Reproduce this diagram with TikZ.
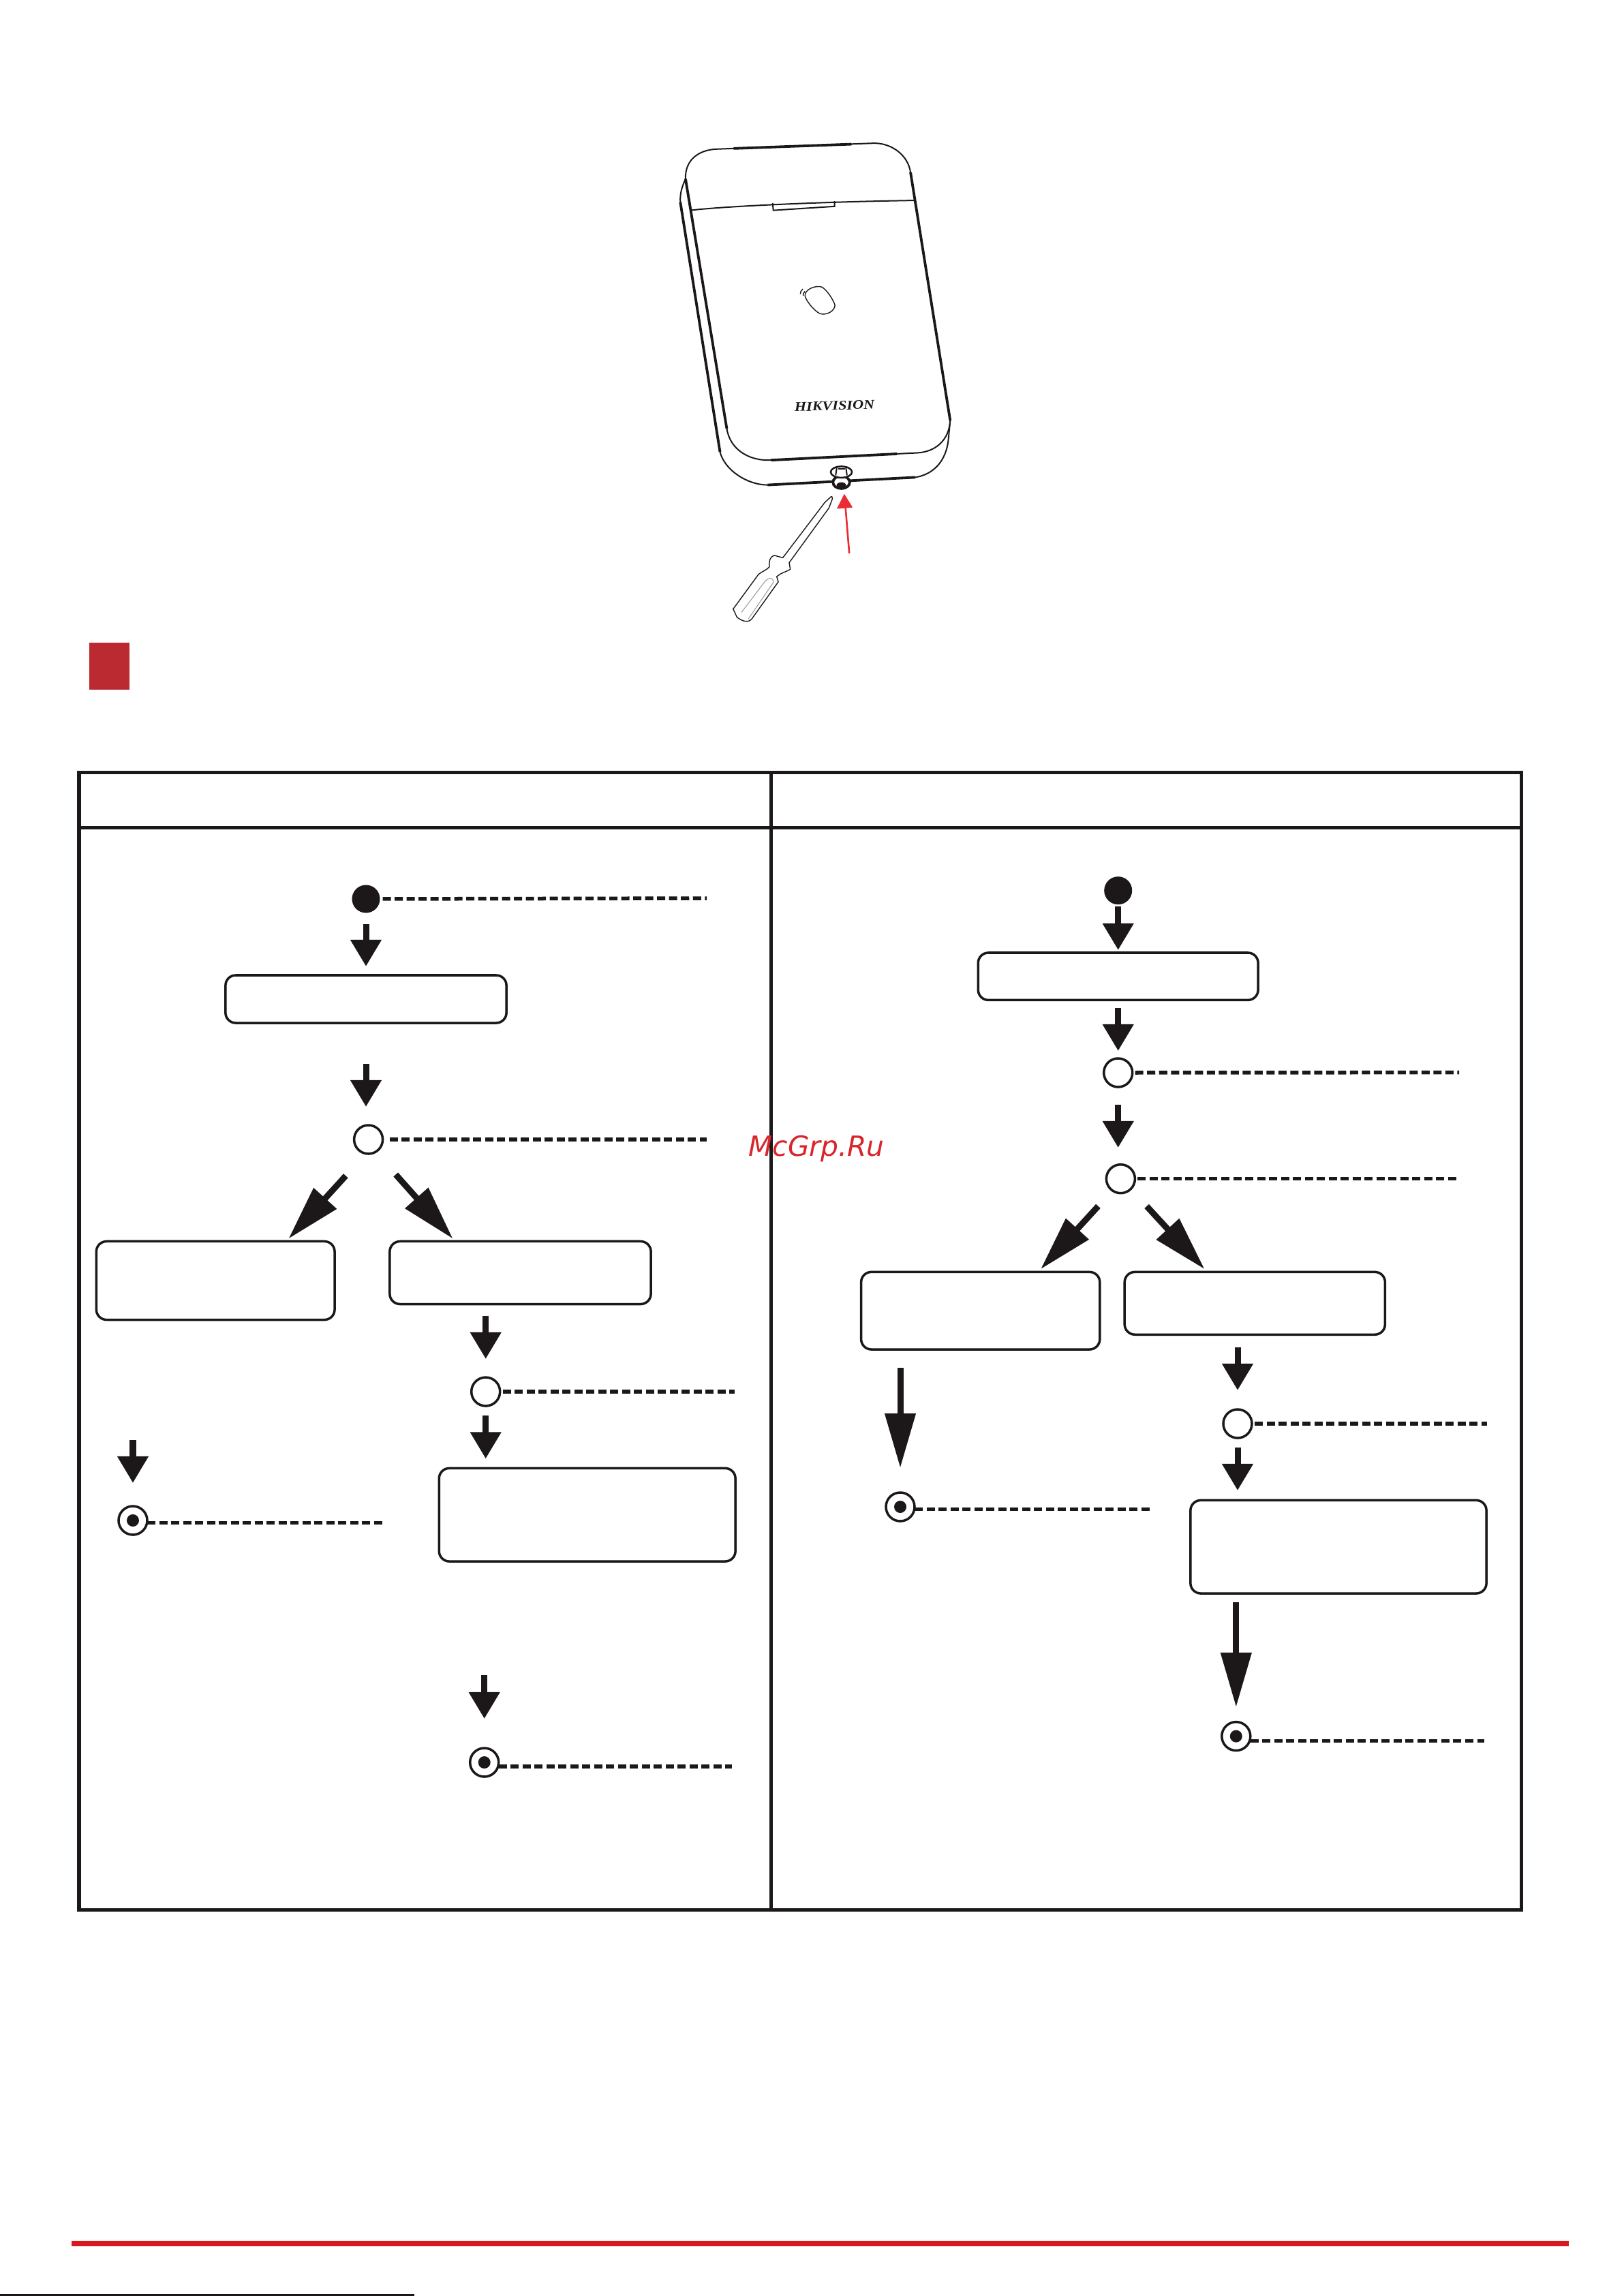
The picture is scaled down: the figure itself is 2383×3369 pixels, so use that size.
\documentclass[tikz,border=0pt]{standalone}
\usepackage{fontspec}
\usepackage{tikz}
\usetikzlibrary{arrows.meta}
\newfontfamily\markfont{DejaVu Sans}
\newfontfamily\logofont{Liberation Serif}
\definecolor{ink}{HTML}{1C1819}
\definecolor{hikred}{HTML}{D71920}
\definecolor{markred}{HTML}{D8262C}
\definecolor{tipred}{HTML}{ED2B33}
\definecolor{flagred}{HTML}{BA2A30}

\begin{document}
\begin{tikzpicture}[
            x=0.01cm,y=-0.01cm,
            init-node/.style={circle,fill=ink,inner sep=0,outer sep=0,minimum size=0.41cm},
            wait-node/.style={circle,draw=ink,fill=white,line width=0.035cm,inner sep=0,outer sep=0,minimum size=0.42cm},
            end-node/.style={wait-node,path picture={\fill[ink] (path picture bounding box.center) circle (0.09cm);}},
            act-node/.style={rectangle,rounded corners=0.15cm,draw=ink,fill=white,line width=0.035cm,inner sep=0,outer sep=0},
            flow/.style={-{Triangle[length=0.39cm,width=0.435cm]},draw=ink,fill=ink,line width=0.09cm},
            long-flow/.style={-{Triangle[length=0.8cm,width=0.435cm]},draw=ink,fill=ink,line width=0.09cm},
            lead/.style={draw=ink,line width=0.055cm,dash pattern=on 0.12cm off 0.055cm,shorten <=0.04cm},
            frame/.style={draw=ink,line width=0.05cm},
            outline/.style={draw=ink,line width=0.02cm},
            edge-line/.style={draw=ink,line width=0.038cm},
            thin-outline/.style={draw=ink,line width=0.014cm},
        ]
            \useasboundingbox (0,0) rectangle (2383,3369);

            % device and screwdriver
            \begin{scope}[shift={(950,180)},x=0.003333cm,y=-0.004847cm]
                \draw[outline,fill=white] (350,925) .. controls (365,990) and (450,1020) .. (530,1020) -- (1190,998) .. controls (1270,995) and (1330,960) .. (1335,900) -- (1160,150) .. controls (1150,100) and (1080,62) .. (1000,62) -- (300,80) .. controls (230,83) and (165,110) .. (168,170) -- cycle;
                \draw[outline] (168,170) .. controls (155,190) and (143,210) .. (145,240) -- (320,995) .. controls (340,1050) and (440,1095) .. (530,1095) -- (1180,1072) .. controls (1250,1065) and (1320,1030) .. (1328,950) -- (1335,900);
                \draw[edge-line] (168,170) -- (350,925);
                \draw[edge-line] (145,240) -- (320,995);
                \draw[edge-line] (1160,150) -- (1335,900);
                \draw[edge-line] (380,78) -- (900,65);
                \draw[edge-line] (545,1020) -- (1100,1001);
                \draw[edge-line] (530,1095) -- (1180,1072);
                \draw[outline] (190,265) .. controls (300,255) and (700,240) .. (1175,235);
                \draw[outline] (552,243) -- (555,265) -- (825,253) -- (825,237);
                \draw[thin-outline] (695,525) .. controls (690,505) and (740,490) .. (770,497) .. controls (790,505) and (820,535) .. (827,552) .. controls (825,570) and (790,582) .. (765,578) .. controls (745,575) and (705,545) .. (695,525);
                \draw[thin-outline] (685,503) .. controls (678,507) and (673,512) .. (674,518);
                \draw[thin-outline] (695,510) .. controls (688,513) and (685,518) .. (687,523);
                \node[rotate=2,xscale=1.15,text=ink,inner sep=0] (logo) at (825,856) {\logofont\fontsize{5.5}{6}\selectfont\bfseries\itshape HIKVISION};

                % screw
                \draw[edge-line,fill=white] (855,1087) ellipse [x radius=37,y radius=19];
                \fill[ink] (855,1096) ellipse [x radius=21,y radius=9];
                \draw[edge-line,line width=0.025cm,fill=white] (855,1056) ellipse [x radius=47,y radius=17];
                \draw[outline] (835,1042) -- (830,1066);
                \draw[outline] (875,1042) -- (880,1066);
                \draw[outline] (840,1047) -- (872,1047);

                % screwdriver
                \draw[thin-outline,fill=white] (807,1132) .. controls (812,1128) and (816,1130) .. (815,1138) -- (800,1165) -- (625,1330) -- (630,1350) .. controls (610,1358) and (585,1362) .. (570,1372) -- (577,1388) -- (460,1500) .. controls (445,1512) and (420,1508) .. (395,1495) -- (378,1470) -- (490,1365) .. controls (510,1355) and (530,1350) .. (538,1342) .. controls (535,1320) and (545,1310) .. (560,1308) -- (597,1315) -- (782,1148) -- cycle;
                \draw[draw=ink!45,line width=0.01cm] (415,1480) -- (520,1385) .. controls (535,1375) and (555,1372) .. (555,1390) -- (445,1500);

                % arrow at the screw
                \draw[draw=tipred,line width=0.026cm] (890,1302) -- (873,1160);
                \fill[tipred] (868,1122) -- (905,1163) -- (835,1167) -- cycle;
            \end{scope}

            \fill[flagred] (131,943) rectangle (190,1012);

            % table
            \draw[frame] (116,1133) rectangle (2232,2802);
            \draw[frame] (116,1214) -- (2232,1214);
            \draw[frame] (1131,1133) -- (1131,2802);

            % left column
            \node[init-node] (startL) at (537,1319) {};
            \node[act-node,minimum width=4.12cm,minimum height=0.7cm] (boxLa) at (537,1466) {};
            \node[wait-node] (circLa) at (540.6,1672) {};
            \node[act-node,minimum width=3.495cm,minimum height=1.15cm] (boxLb) at (316.2,1879) {};
            \node[act-node,minimum width=3.83cm,minimum height=0.92cm] (boxLc) at (763.5,1867.5) {};
            \node[wait-node] (circLb) at (712.7,2042) {};
            \node[act-node,minimum width=4.346cm,minimum height=1.366cm] (boxLd) at (861.7,2222.7) {};
            \node[end-node] (endLa) at (195,2231) {};
            \node[end-node] (endLb) at (710.7,2586) {};

            \coordinate (leadLa) at (1037,1318);
            \coordinate (leadLb) at (1037,1672);
            \coordinate (leadLc) at (1078,2042);
            \coordinate (leadLd) at (561,2234.7);
            \coordinate (leadLe) at (1074,2591.8);
            \coordinate (tipLb) at (423.4,1817.6);
            \coordinate (tipLc) at (664.5,1817.6);

            \draw[lead] (startL) -- (leadLa);
            \draw[lead,shorten <=0.1cm] (circLa) -- (leadLb);
            \draw[lead] (circLb) -- (leadLc);
            \draw[lead,shorten <=0] (endLa.east |- leadLd) -- (leadLd);
            \draw[lead,shorten <=0] (endLb.east |- leadLe) -- (leadLe);

            \draw[flow,shorten <=0.16cm,shorten >=0.13cm] (startL) -- (boxLa);
            \draw[flow,shorten <=0.6cm,shorten >=0.27cm] (boxLa.south) -- (boxLa.south |- circLa.north);
            \draw[long-flow,shorten <=0.44cm] (circLa.260) -- (tipLb);
            \draw[long-flow,shorten <=0.445cm] (circLa.300) -- (tipLc);
            \draw[flow,shorten <=0.17cm,shorten >=0.27cm] (boxLc.south -| circLb.north) -- (circLb.north);
            \draw[flow,shorten <=0.14cm,shorten >=0.14cm] (circLb.south) -- (circLb.south |- boxLd.north);
            \draw[flow,shorten <=1.76cm,shorten >=0.34cm] (boxLb.south -| endLa.north) -- (endLa.north);
            \draw[flow,shorten <=1.67cm,shorten >=0.43cm] (boxLd.south -| endLb.north) -- (endLb.north);

            % right column
            \node[init-node] (startR) at (1640.7,1306.7) {};
            \node[act-node,minimum width=4.106cm,minimum height=0.694cm] (boxRa) at (1640.7,1432.7) {};
            \node[wait-node] (circRa) at (1640.7,1574) {};
            \node[wait-node] (circRb) at (1644.4,1729.7) {};
            \node[act-node,minimum width=3.5cm,minimum height=1.136cm] (boxRb) at (1438.7,1923.2) {};
            \node[act-node,minimum width=3.82cm,minimum height=0.918cm] (boxRc) at (1841.3,1912.3) {};
            \node[wait-node] (circRc) at (1816,2089) {};
            \node[act-node,minimum width=4.34cm,minimum height=1.366cm] (boxRd) at (1964,2269.7) {};
            \node[end-node] (endRa) at (1321,2211) {};
            \node[end-node] (endRb) at (1813.8,2547.6) {};

            \coordinate (leadRa) at (2141,1573.6);
            \coordinate (leadRb) at (2141,1729.7);
            \coordinate (leadRc) at (2182,2089);
            \coordinate (leadRd) at (1687,2214.6);
            \coordinate (leadRe) at (2177.6,2554.5);
            \coordinate (tipRb) at (1527,1862.3);
            \coordinate (tipRc) at (1767.6,1862.3);

            \draw[lead] (circRa) -- (leadRa);
            \draw[lead] (circRb) -- (leadRb);
            \draw[lead] (circRc) -- (leadRc);
            \draw[lead,shorten <=0] (endRa.east |- leadRd) -- (leadRd);
            \draw[lead,shorten <=0] (endRb.east |- leadRe) -- (leadRe);

            \draw[flow,shorten <=0.03cm,shorten >=0.04cm] (startR) -- (boxRa);
            \draw[flow,shorten <=0.116cm,shorten >=0.11cm] (boxRa) -- (circRa);
            \draw[flow,shorten <=0.26cm,shorten >=0.247cm] (circRa.south) -- (circRa.south |- circRb.north);
            \draw[long-flow,shorten <=0.31cm] (circRb.235) -- (tipRb);
            \draw[long-flow,shorten <=0.345cm] (circRb.315) -- (tipRc);
            \draw[flow,shorten <=0.19cm,shorten >=0.28cm] (boxRc.south -| circRc.north) -- (circRc.north);
            \draw[flow,shorten <=0.14cm,shorten >=0.144cm] (circRc.south) -- (circRc.south |- boxRd.north);
            \draw[long-flow,shorten <=0.274cm,shorten >=0.36cm] (boxRb.south -| endRa.north) -- (endRa.north);
            \draw[long-flow,shorten <=0.127cm,shorten >=0.216cm] (boxRd.south -| endRb.north) -- (endRb.north);

            \node[text=markred,inner sep=0] (mark) at (1198,1686) {\markfont\fontsize{11.6}{13}\selectfont\itshape McGrp.Ru};

            % foot of the page
            \fill[hikred] (105,3288) rectangle (2302,3296);
            \fill[ink] (0,3366) rectangle (608,3369);
        \end{tikzpicture}
\end{document}
